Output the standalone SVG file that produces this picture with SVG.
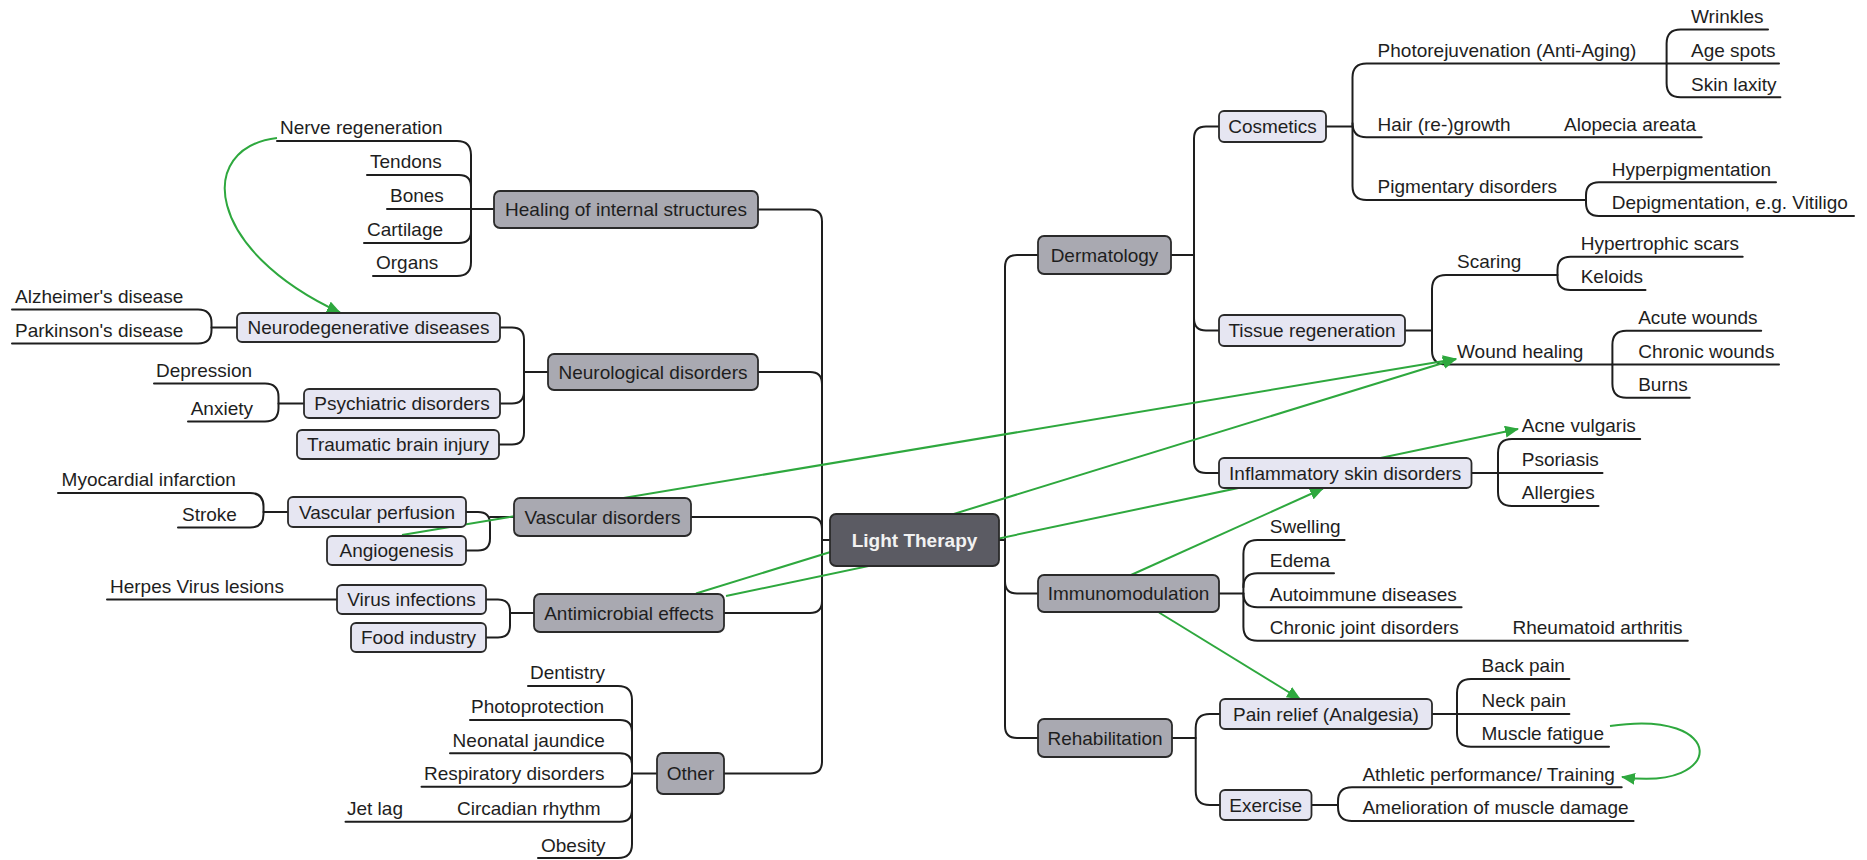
<svg xmlns="http://www.w3.org/2000/svg" width="1867" height="860" viewBox="0 0 1867 860">
<style>
text{font-family:"Liberation Sans",Arial,sans-serif;font-size:19px;fill:#1e1e1e}
.c{text-anchor:middle}
.tree{fill:none;stroke:#1e1e1e;stroke-width:2;stroke-linecap:round;stroke-linejoin:round}
.link{fill:none;stroke:#2ea83e;stroke-width:2}
.main{fill:#a9a9b1;stroke:#2a2a2a;stroke-width:1.8}
.sub{fill:#e6e6f2;stroke:#2a2a2a;stroke-width:1.8}
.root{fill:#5b5b63;stroke:#2a2a2a;stroke-width:1.8}
.rt{fill:#f2f2f2;font-weight:bold}
</style>
<defs>
<marker id="ah" markerUnits="userSpaceOnUse" markerWidth="14" markerHeight="12" refX="13" refY="6" orient="auto">
<path d="M0,0 L14,6 L0,12 Z" fill="#2ea83e"/>
</marker>
</defs>
<rect width="1867" height="860" fill="#ffffff"/>
<g id="connectors">
<g id="tree-lines" class="tree">
<!-- left trunk -->
<path d="M758 209.5 H810 Q822 209.5 822 221.5 V761.5 Q822 773.5 810 773.5 H724"/>
<path d="M758 372 H810 Q822 372 822 384"/>
<path d="M691 517 H810 Q822 517 822 529"/>
<path d="M724 613 H810 Q822 613 822 601"/>
<path d="M822 540 H830"/>
<!-- healing -->
<path d="M277 141 H457 Q471 141 471 155 V262 Q471 276 457 276 H373"/>
<path d="M367 175 H459 Q471 175 471 187"/>
<path d="M364 243 H459 Q471 243 471 231"/>
<path d="M387 209 H494"/>
<!-- neurological -->
<path d="M500 327.5 H512 Q524 327.5 524 339.5 V432.5 Q524 444.5 512 444.5 H499"/>
<path d="M500 403.5 H512 Q524 403.5 524 391.5"/>
<path d="M524 372 H548"/>
<path d="M12 309.5 H198 Q211.5 309.5 211.5 323 V330 Q211.5 343.5 198 343.5 H12"/>
<path d="M211.5 327.5 H237"/>
<path d="M154 383.5 H265 Q278.5 383.5 278.5 397 V408 Q278.5 421.5 265 421.5 H188"/>
<path d="M278.5 403.5 H304"/>
<!-- vascular -->
<path d="M58 493 H250 Q263.5 493 263.5 506.5 V514 Q263.5 527.5 250 527.5 H178"/>
<path d="M263.5 512 H288"/>
<path d="M466 512 H478 Q490 512 490 524 V538.5 Q490 550.5 478 550.5 H466"/>
<path d="M490 517 H514"/>
<!-- antimicrobial -->
<path d="M107 599.5 H337"/>
<path d="M486 599.5 H498 Q510 599.5 510 611.5 V625.5 Q510 637.5 498 637.5 H486"/>
<path d="M510 613 H534"/>
<!-- other -->
<path d="M528 686 H618 Q632 686 632 700 V844 Q632 858 618 858 H538"/>
<path d="M470 720 H620 Q632 720 632 732"/>
<path d="M450 753.3 H620 Q632 753.3 632 765.3"/>
<path d="M421.5 786.7 H620 Q632 786.7 632 774.7"/>
<path d="M345.5 821.7 H620 Q632 821.7 632 809.7"/>
<path d="M632 773.5 H657"/>
<!-- right trunk -->
<path d="M1038 255 H1017 Q1005 255 1005 267 V726 Q1005 738 1017 738 H1038"/>
<path d="M1038 593.5 H1017 Q1005 593.5 1005 581.5"/>
<path d="M999 540 H1005"/>
<!-- dermatology -->
<path d="M1219 126.5 H1206 Q1194 126.5 1194 138.5 V461 Q1194 473 1206 473 H1219"/>
<path d="M1219 330.5 H1206 Q1194 330.5 1194 318.5"/>
<path d="M1171 255 H1194"/>
<!-- cosmetics -->
<path d="M1666.6 63.5 H1366.5 Q1352.5 63.5 1352.5 77.5 V186 Q1352.5 200 1366.5 200 H1586"/>
<path d="M1352.5 123.3 Q1352.5 137.3 1366.5 137.3 H1701.7"/>
<path d="M1326 126.5 H1352.5"/>
<path d="M1768 29.5 H1680.6 Q1666.6 29.5 1666.6 43.5 V83.3 Q1666.6 97.3 1680.6 97.3 H1780.4"/>
<path d="M1666.6 63.5 H1779"/>
<path d="M1776 182.3 H1599 Q1586 182.3 1586 195.3 V203 Q1586 216 1599 216 H1854"/>
<!-- tissue regeneration -->
<path d="M1557.5 275 H1446 Q1432 275 1432 289 V350.5 Q1432 364.5 1446 364.5 H1612.4"/>
<path d="M1405 330.5 H1432"/>
<path d="M1742.7 256.7 H1570.5 Q1557.5 256.7 1557.5 269.7 V277 Q1557.5 290 1570.5 290 H1645.5"/>
<path d="M1761.2 330.7 H1626.4 Q1612.4 330.7 1612.4 344.7 V383.7 Q1612.4 397.7 1626.4 397.7 H1689.8"/>
<path d="M1612.4 364.5 H1779"/>
<!-- inflammatory -->
<path d="M1640.2 439 H1512 Q1498 439 1498 453 V492 Q1498 506 1512 506 H1598.5"/>
<path d="M1471.5 473 H1602.5"/>
<!-- immunomodulation -->
<path d="M1344.6 540 H1257.4 Q1243.4 540 1243.4 554 V626.7 Q1243.4 640.7 1257.4 640.7 H1687.8"/>
<path d="M1334 573.3 H1257.4 Q1243.4 573.3 1243.4 587.3"/>
<path d="M1461.6 607.3 H1257.4 Q1243.4 607.3 1243.4 593.3"/>
<path d="M1219 593.5 H1243.4"/>
<!-- rehabilitation -->
<path d="M1220 714 H1209.7 Q1195.7 714 1195.7 728 V791 Q1195.7 805 1209.7 805 H1220"/>
<path d="M1172 738 H1195.7"/>
<path d="M1569.4 679 H1471 Q1457 679 1457 693 V732.7 Q1457 746.7 1471 746.7 H1609"/>
<path d="M1432 714 H1569.4"/>
<path d="M1621.7 787.3 H1352 Q1338 787.3 1338 801.3 V807 Q1338 821 1352 821 H1633.6"/>
<path d="M1311.5 805 H1338"/>
</g>
<g id="cross-links" class="link">
<path d="M277 138 C195 148 205 250 340 312.5" marker-end="url(#ah)"/>
<path d="M402 535 L1456 359" marker-end="url(#ah)"/>
<path d="M696 593.5 L1456 359" marker-end="url(#ah)"/>
<path d="M726 596 L1518 429" marker-end="url(#ah)"/>
<path d="M1131 575 L1323 488.5" marker-end="url(#ah)"/>
<path d="M1159 612.5 L1300 699" marker-end="url(#ah)"/>
<path d="M1610 726 C1728 708 1727 792 1622 777" marker-end="url(#ah)"/>
</g>
</g>
<g id="n-root"><rect class="root" x="830" y="514" width="169" height="52" rx="6"/><text class="c rt" x="914.5" y="546.8">Light Therapy</text></g>
<g id="n-healing"><rect class="main" x="494" y="191" width="264" height="37" rx="6"/><text class="c" x="626" y="216.3">Healing of internal structures</text></g>
<g id="n-neuro"><rect class="main" x="548" y="354" width="210" height="36" rx="6"/><text class="c" x="653" y="378.8">Neurological disorders</text></g>
<g id="n-vascular"><rect class="main" x="514" y="498" width="177" height="38" rx="6"/><text class="c" x="602.5" y="523.8">Vascular disorders</text></g>
<g id="n-antimicrobial"><rect class="main" x="534" y="594" width="190" height="38" rx="6"/><text class="c" x="629" y="619.8">Antimicrobial effects</text></g>
<g id="n-other"><rect class="main" x="657" y="753" width="67" height="41" rx="6"/><text class="c" x="690.5" y="780.3">Other</text></g>
<g id="n-neurodeg"><rect class="sub" x="237" y="313" width="263" height="29" rx="5"/><text class="c" x="368.5" y="334.3">Neurodegenerative diseases</text></g>
<g id="n-psych"><rect class="sub" x="304" y="389" width="196" height="29" rx="5"/><text class="c" x="402" y="410.3">Psychiatric disorders</text></g>
<g id="n-tbi"><rect class="sub" x="297" y="430" width="202" height="29" rx="5"/><text class="c" x="398" y="451.3">Traumatic brain injury</text></g>
<g id="n-vperf"><rect class="sub" x="288" y="497" width="178" height="30" rx="5"/><text class="c" x="377" y="518.8">Vascular perfusion</text></g>
<g id="n-angio"><rect class="sub" x="327" y="536" width="139" height="29" rx="5"/><text class="c" x="396.5" y="557.3">Angiogenesis</text></g>
<g id="n-virus"><rect class="sub" x="337" y="585" width="149" height="29" rx="5"/><text class="c" x="411.5" y="606.3">Virus infections</text></g>
<g id="n-food"><rect class="sub" x="351" y="623" width="135" height="29" rx="5"/><text class="c" x="418.5" y="644.3">Food industry</text></g>
<g id="n-derm"><rect class="main" x="1038" y="236" width="133" height="38" rx="6"/><text class="c" x="1104.5" y="261.8">Dermatology</text></g>
<g id="n-immuno"><rect class="main" x="1038" y="575" width="181" height="37" rx="6"/><text class="c" x="1128.5" y="600.3">Immunomodulation</text></g>
<g id="n-rehab"><rect class="main" x="1038" y="719" width="134" height="38" rx="6"/><text class="c" x="1105" y="744.8">Rehabilitation</text></g>
<g id="n-cosmetics"><rect class="sub" x="1219" y="111" width="107" height="31" rx="5"/><text class="c" x="1272.5" y="133.3">Cosmetics</text></g>
<g id="n-tissue"><rect class="sub" x="1219" y="315" width="186" height="31" rx="5"/><text class="c" x="1312" y="337.3">Tissue regeneration</text></g>
<g id="n-inflam"><rect class="sub" x="1219" y="458" width="252.5" height="30" rx="5"/><text class="c" x="1345.2" y="479.8">Inflammatory skin disorders</text></g>
<g id="n-pain"><rect class="sub" x="1220" y="699" width="212" height="30" rx="5"/><text class="c" x="1326" y="720.8">Pain relief (Analgesia)</text></g>
<g id="n-exercise"><rect class="sub" x="1220" y="790" width="91.5" height="30" rx="5"/><text class="c" x="1265.7" y="811.8">Exercise</text></g>
<g id="leaves">
<g id="l-nerve"><text x="280" y="134">Nerve regeneration</text></g>
<g id="l-tendons"><text x="370" y="168">Tendons</text></g>
<g id="l-bones"><text x="390" y="202">Bones</text></g>
<g id="l-cartilage"><text x="367" y="236">Cartilage</text></g>
<g id="l-organs"><text x="376" y="269">Organs</text></g>
<g id="l-alz"><text x="15" y="302.5">Alzheimer's disease</text></g>
<g id="l-park"><text x="15" y="336.5">Parkinson's disease</text></g>
<g id="l-dep"><text x="156" y="376.5">Depression</text></g>
<g id="l-anx"><text x="190.7" y="414.5">Anxiety</text></g>
<g id="l-myo"><text x="61.6" y="486">Myocardial infarction</text></g>
<g id="l-stroke"><text x="182" y="520.5">Stroke</text></g>
<g id="l-herpes"><text x="110" y="592.5">Herpes Virus lesions</text></g>
<g id="l-dent"><text x="530" y="679">Dentistry</text></g>
<g id="l-photo"><text x="471" y="713">Photoprotection</text></g>
<g id="l-neo"><text x="452.6" y="746.5">Neonatal jaundice</text></g>
<g id="l-resp"><text x="424" y="780">Respiratory disorders</text></g>
<g id="l-jet"><text x="347" y="815">Jet lag</text></g>
<g id="l-circ"><text x="457" y="815">Circadian rhythm</text></g>
<g id="l-obes"><text x="541" y="851.5">Obesity</text></g>
<g id="l-photorej"><text x="1377.6" y="56.5">Photorejuvenation (Anti-Aging)</text></g>
<g id="l-wrinkles"><text x="1691" y="22.5">Wrinkles</text></g>
<g id="l-age"><text x="1691" y="56.5">Age spots</text></g>
<g id="l-laxity"><text x="1691" y="90.5">Skin laxity</text></g>
<g id="l-hair"><text x="1377.6" y="130.5">Hair (re-)growth</text></g>
<g id="l-alopecia"><text x="1564" y="130.5">Alopecia areata</text></g>
<g id="l-pigm"><text x="1377.6" y="193">Pigmentary disorders</text></g>
<g id="l-hyper"><text x="1611.7" y="175.5">Hyperpigmentation</text></g>
<g id="l-depig"><text x="1611.7" y="209">Depigmentation, e.g. Vitiligo</text></g>
<g id="l-scaring"><text x="1457" y="268">Scaring</text></g>
<g id="l-hypert"><text x="1580.7" y="250">Hypertrophic scars</text></g>
<g id="l-keloids"><text x="1580.7" y="283">Keloids</text></g>
<g id="l-wound"><text x="1457" y="358">Wound healing</text></g>
<g id="l-acute"><text x="1638.2" y="324">Acute wounds</text></g>
<g id="l-chronicw"><text x="1638.2" y="357.5">Chronic wounds</text></g>
<g id="l-burns"><text x="1638.2" y="391">Burns</text></g>
<g id="l-acne"><text x="1521.8" y="432">Acne vulgaris</text></g>
<g id="l-psor"><text x="1521.8" y="465.5">Psoriasis</text></g>
<g id="l-allerg"><text x="1521.8" y="499">Allergies</text></g>
<g id="l-swell"><text x="1269.8" y="533">Swelling</text></g>
<g id="l-edema"><text x="1269.8" y="566.5">Edema</text></g>
<g id="l-autoimm"><text x="1269.8" y="600.5">Autoimmune diseases</text></g>
<g id="l-chronicj"><text x="1269.8" y="634">Chronic joint disorders</text></g>
<g id="l-rheum"><text x="1512.5" y="634">Rheumatoid arthritis</text></g>
<g id="l-back"><text x="1481.5" y="672">Back pain</text></g>
<g id="l-neck"><text x="1481.5" y="706.5">Neck pain</text></g>
<g id="l-muscle"><text x="1481.5" y="740">Muscle fatigue</text></g>
<g id="l-athletic"><text x="1362.4" y="780.5">Athletic performance/ Training</text></g>
<g id="l-amel"><text x="1362.4" y="814">Amelioration of muscle damage</text></g>
</g>
</svg>
